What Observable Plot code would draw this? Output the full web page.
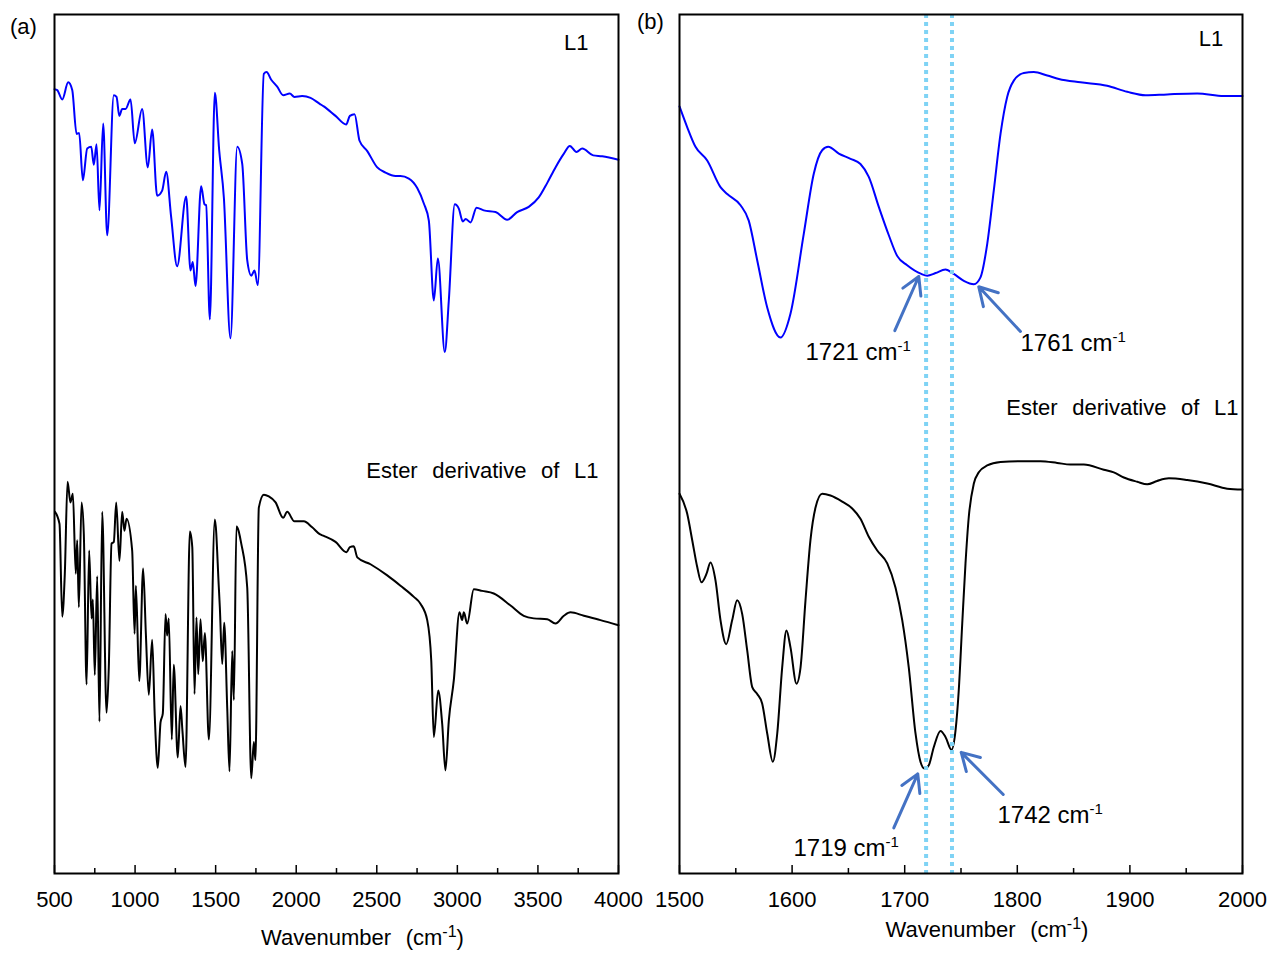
<!DOCTYPE html>
<html><head><meta charset="utf-8">
<script src="https://cdn.jsdelivr.net/npm/d3@7"></script>
<script src="https://cdn.jsdelivr.net/npm/@observablehq/plot@0.6"></script>
<style>
body{margin:0;background:#fff;}
#wrap{position:relative;width:1271px;height:956px;font-family:"Liberation Sans",Arial,Helvetica,sans-serif;}
#wrap svg{position:absolute;top:0;}
.tag{position:absolute;font-size:22px;line-height:26px;color:#000;}
</style></head><body>
<div id="wrap"><div class="tag" style="left:10px;top:14px">(a)</div><div class="tag" style="left:637px;top:9px">(b)</div></div>
<script>
// ---------- Panel (a): full spectra ----------
const wnA_L1 = [500,517,548,585,610,637,653,676,703,728,744,761,779,802,827,868,885,902,920,941,972,998,1044,1079,1106,1137,1168,1193,1224,1261,1317,1344,1358,1375,1410,1431,1441,1464,1495,1522,1551,1592,1634,1665,1696,1721,1741,1762,1799,1816,1845,1882,1919,1960,1989,2037,2089,2146,2171,2244,2310,2333,2362,2393,2441,2503,2554,2616,2647,2699,2751,2792,2823,2854,2879,2922,2947,2984,3009,3034,3051,3082,3119,3164,3237,3309,3371,3443,3505,3558,3609,3661,3698,3739,3775,3843,3899,4000];
const tA_L1 = [91.3,91.2,90.1,92.1,91.2,86.1,86.2,80.7,84.4,84.6,82.5,84.9,77.2,87.3,74.3,90.6,90.4,88.2,89.0,89.0,90.1,85.0,89.0,82.2,86.6,78.9,79.5,81.7,76.4,70.7,78.8,70.2,71.2,68.4,80.0,77.9,77.8,64.5,90.9,84.2,78.7,62.3,84.6,82.6,71.4,69.6,70.2,68.5,93.1,93.3,92.4,91.6,90.6,90.8,90.4,90.5,90.3,89.6,89.3,88.2,87.2,88.2,88.4,85.3,84.1,82.2,81.6,81.2,81.2,80.9,79.8,78.0,76.0,66.7,71.6,60.7,66.7,77.9,77.4,75.9,76.2,75.8,77.5,77.2,77.0,76.1,77.0,77.6,78.7,80.4,82.2,83.8,84.7,84.0,84.4,83.6,83.5,83.1];

const wnA_E = [503,531,548,564,581,599,614,632,641,651,668,682,699,715,730,738,750,765,779,796,823,837,854,868,883,903,920,934,947,982,997,1005,1026,1050,1067,1085,1106,1122,1141,1158,1172,1189,1199,1209,1228,1240,1265,1282,1294,1313,1340,1355,1369,1381,1392,1406,1420,1433,1458,1495,1520,1526,1541,1553,1572,1586,1603,1613,1629,1659,1696,1721,1737,1747,1768,1799,1830,1872,1919,1944,1989,2047,2099,2146,2171,2244,2312,2333,2357,2379,2461,2565,2647,2730,2771,2813,2838,2854,2881,2906,2926,2947,2978,3013,3030,3040,3061,3102,3154,3226,3330,3412,3474,3558,3609,3661,3702,3785,3888,4000];
const tA_E = [42.1,40.7,29.9,34.9,45.6,43.2,44.2,34.9,38.8,31.0,43.2,39.5,22.0,37.6,29.7,31.9,23.1,34.6,17.7,42.1,18.7,24.0,38.4,38.6,43.2,36.4,42.1,39.9,41.3,37.6,27.9,33.5,22.4,35.5,27.9,20.8,27.2,18.4,12.3,17.6,18.6,30.2,27.7,29.7,15.6,24.3,13.5,19.5,16.6,12.4,39.8,38.0,20.9,29.8,23.2,29.6,24.7,28.0,15.6,41.2,33.2,31.0,24.4,29.2,19.2,11.9,25.9,20.2,40.4,38.4,33.3,11.1,15.3,13.2,42.6,44.1,43.9,43.2,41.4,42.1,41.0,41.0,40.3,39.5,39.3,38.6,37.4,38.0,38.1,36.8,36.0,34.7,33.5,32.2,31.4,29.5,24.8,15.9,21.3,17.4,12.0,17.8,22.5,30.4,29.5,30.4,29.1,33.1,32.9,32.6,31.2,30.0,29.7,29.6,29.1,30.0,30.4,30.0,29.5,28.9];

// ---------- Panel (b): 1500-2000 zoom ----------
const wnB_L1 = [1500,1506.8,1514.2,1524.6,1536.4,1542.4,1554.2,1561.5,1569,1577.9,1589.7,1598.6,1610.4,1619.3,1626.7,1632.1,1641.5,1651.9,1660.7,1668.1,1677,1685.9,1693.3,1702.2,1714.7,1720,1727.4,1736.2,1743.6,1752.5,1761.4,1767.3,1773.3,1779.1,1785.1,1791,1796.9,1805.8,1814.7,1826.6,1836.9,1856.1,1879.8,1897.6,1913.9,1933.1,1959.8,1983.4,2000];
const tB_L1 = [89.3,86.9,84.6,83.0,79.9,79.1,77.8,76.0,71.4,65.9,62.4,65.2,74.5,81.5,84.2,84.6,83.8,83.2,82.6,81.1,77.6,74.3,71.9,70.8,69.8,69.6,69.9,70.3,69.8,69.0,68.6,69.4,73.3,79.5,86.1,90.4,92.3,93.2,93.3,92.9,92.5,92.1,91.7,91.0,90.6,90.7,90.8,90.5,90.5];

const wnB_E = [1500,1506.8,1511.3,1515.7,1519.5,1524,1527.5,1532,1536.4,1541.5,1546.8,1551.2,1555.7,1560.1,1564.6,1569,1573.4,1577.9,1582.9,1586.8,1591.2,1595,1598.6,1603.9,1607.5,1611.9,1616.3,1620.8,1626.7,1634.1,1644.5,1653.4,1660.7,1668.1,1675.6,1684.5,1691.8,1697.8,1703.6,1709.6,1714,1717.6,1721.4,1725.8,1731.8,1736.2,1741.6,1745.1,1748,1751.1,1754,1756.9,1761.4,1765.8,1773.3,1785.1,1802.8,1820.6,1835.4,1847.2,1859.1,1876.8,1885.7,1894.6,1906.5,1915.4,1924.2,1934.6,1950.9,1968.7,1986.4,2000];
const tB_E = [44.2,41.9,38.8,35.7,33.9,34.9,36.2,34.1,29.5,26.7,29.5,31.8,30.2,26.0,21.7,20.9,19.8,16.3,13.0,16.3,24.0,28.3,26.3,22.1,24.0,31.8,38.8,42.6,44.2,44.0,43.3,42.5,41.3,39.2,37.6,36.1,33.3,29.5,24.0,16.3,13.0,12.2,12.6,14.7,16.6,15.9,14.4,16.6,21.3,29.1,36.1,41.5,45.4,46.7,47.5,47.9,48.0,48.0,47.8,47.6,47.6,47.0,46.7,46.1,45.6,45.3,45.7,46.0,45.8,45.4,44.8,44.7];

// ticks
const majorA = [500,1000,1500,2000,2500,3000,3500,4000];
const minorA = [750,1250,1750,2250,2750,3250,3750];
const majorB = [1500,1600,1700,1800,1900,2000];
const minorB = [1550,1650,1750,1850,1950];

// peak markers (panel b)
const peakLines = [1719, 1742];
const annText = ["1721 cm-1","1761 cm-1","1719 cm-1","1742 cm-1"];
const annTextX = [1611.9, 1802.8, 1601.2, 1782.4];
const annTextY = [60.7, 61.7, 2.9, 6.8];
const arrTailX = [1691.2, 1802.8, 1690.3, 1787.5];
const arrTailY = [63.2, 63.1, 5.3, 9.2];
const arrTipX = [1712.5, 1765.8, 1711.6, 1750.2];
const arrTipY = [69.5, 68.3, 11.6, 14.1];

// series labels
const seriesNames = ["L1", "Ester derivative of L1"];
const labA_X = [3814, 3876], labA_Y = [96.7, 46.9];
const labB_X = [1983, 1996.4], labB_Y = [97.2, 54.2];
const axisTitle = "Wavenumber (cm-1)";

// ---------- helpers ----------
const FONT = '"Liberation Sans", Arial, Helvetica, sans-serif';
const H = 956, MT = 14, MB = 83, FH = H - MT - MB;
const NS = "http://www.w3.org/2000/svg";
const toRows = (xs, ys) => xs.map((x, i) => ({x, y: ys[i]}));

function superscript(svg) {
  svg.querySelectorAll("text").forEach(el => {
    const isAnn = /^\d{4} cm-1$/.test(el.textContent.trim());
    if (isAnn) el.style.wordSpacing = "0px";
    const spans = el.querySelectorAll("tspan");
    const targets = spans.length ? Array.from(spans) : [el];
    targets.forEach(t => {
      const s = t.textContent, i = s.indexOf("cm-1");
      if (i < 0) return;
      const before = s.slice(0, i + 2), after = s.slice(i + 4);
      t.textContent = before;
      const sp = document.createElementNS(NS, "tspan");
      sp.setAttribute("dy", isAnn ? "-9" : "-8"); sp.setAttribute("font-size", isAnn ? "15" : "16");
      sp.textContent = "-1"; t.appendChild(sp);
      if (after) {
        const r = document.createElementNS(NS, "tspan");
        r.setAttribute("dy", "8"); r.textContent = after; t.appendChild(r);
      }
    });
  });
}

function panel({width, left, ml, mr, domain, major, minor, marks, titleDy}) {
  const svg = Plot.plot({
    width, height: H, marginLeft: ml, marginRight: mr, marginTop: MT, marginBottom: MB,
    x: {domain},
    y: {domain: [0, 100], axis: null},
    style: {fontFamily: FONT, fontSize: "22px", background: "transparent", overflow: "visible", color: "black"},
    marks: [
      ...marks,
      Plot.ruleX(minor, {stroke: "black", strokeWidth: 1.5, insetTop: FH - 5}),
      Plot.ruleX(major, {stroke: "black", strokeWidth: 1.5, insetTop: FH - 8}),
      Plot.axisX(major, {anchor: "bottom", tickSize: 0, tickPadding: 18, fontSize: 22, label: null, tickFormat: d => String(d)}),
      Plot.text([axisTitle], {text: d => d, frameAnchor: "bottom", lineAnchor: "middle", dy: titleDy, dx: 26, fontSize: 22, fill: "black"}),
      Plot.frame({stroke: "black", strokeWidth: 2})
    ]
  });
  svg.style.left = left + "px";
  svg.style.wordSpacing = "8.5px";
  superscript(svg);
  document.getElementById("wrap").appendChild(svg);
}

// panel (a)
panel({
  width: 650, left: 0, ml: 54, mr: 32, domain: [500, 4000], major: majorA, minor: minorA, titleDy: 64,
  marks: [
    Plot.line(toRows(wnA_L1, tA_L1), {x: "x", y: "y", stroke: "#0000ff", strokeWidth: 2, curve: "monotone-x"}),
    Plot.line(toRows(wnA_E, tA_E), {x: "x", y: "y", stroke: "#000", strokeWidth: 2, curve: "monotone-x"}),
    Plot.text(seriesNames, {x: (d, i) => labA_X[i], y: (d, i) => labA_Y[i], text: d => d, textAnchor: "end", fontSize: 22, fill: "black"})
  ]
});

// panel (b)
const arrows = annText.map((t, i) => ({x1: arrTailX[i], y1: arrTailY[i], x2: arrTipX[i], y2: arrTipY[i]}));
panel({
  width: 621, left: 650, ml: 29, mr: 29, domain: [1500, 2000], major: majorB, minor: minorB, titleDy: 56,
  marks: [
    Plot.line(toRows(wnB_L1, tB_L1), {x: "x", y: "y", stroke: "#0000ff", strokeWidth: 2, curve: "monotone-x"}),
    Plot.line(toRows(wnB_E, tB_E), {x: "x", y: "y", stroke: "#000", strokeWidth: 2, curve: "monotone-x"}),
    Plot.ruleX(peakLines, {stroke: "#7fd3f5", strokeWidth: 4, strokeDasharray: "4,4"}),
    Plot.arrow(arrows, {x1: "x1", y1: "y1", x2: "x2", y2: "y2", stroke: "#4472c4", strokeWidth: 3, headLength: 14, headAngle: 60}),
    Plot.text(annText, {x: (d, i) => annTextX[i], y: (d, i) => annTextY[i], text: d => d, textAnchor: "start", fontSize: 24, fill: "black"}),
    Plot.text(seriesNames, {x: (d, i) => labB_X[i], y: (d, i) => labB_Y[i], text: d => d, textAnchor: "end", fontSize: 22, fill: "black"})
  ]
});
</script>
</body></html>
